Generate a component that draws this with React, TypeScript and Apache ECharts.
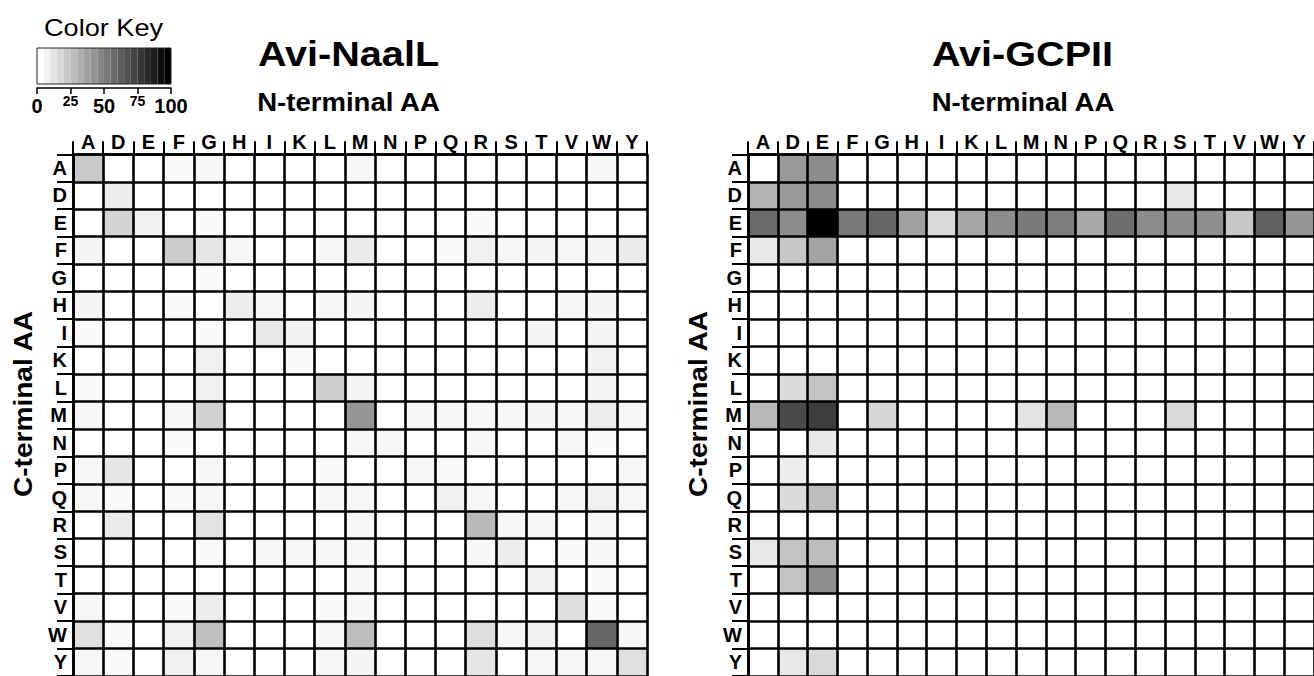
import React, { useEffect, useRef } from "react";
import * as echarts from "echarts";

// Amino acids used on both axes (N-terminal across the top, C-terminal down the side)
const aminoAcids = ["A", "D", "E", "F", "G", "H", "I", "K", "L", "M", "N", "P", "Q", "R", "S", "T", "V", "W", "Y"];

// Avi-NaalL: one row per C-terminal residue, one column per N-terminal residue (0-100)
const naalLValues: number[][] = [
  /* A */ [21, 0, 0, 2, 3, 0, 0, 0, 0, 3, 0, 0, 0, 0, 0, 0, 0, 3, 0],
  /* D */ [0, 7, 0, 0, 0, 0, 0, 0, 0, 0, 0, 0, 0, 0, 0, 0, 0, 0, 0],
  /* E */ [0, 17, 5, 0, 2, 0, 0, 0, 0, 0, 0, 0, 0, 2, 0, 0, 0, 0, 0],
  /* F */ [4, 0, 0, 20, 10, 3, 0, 0, 3, 8, 0, 0, 2, 6, 3, 4, 3, 4, 8],
  /* G */ [0, 0, 0, 0, 2, 0, 0, 0, 0, 0, 0, 0, 0, 0, 0, 0, 0, 0, 0],
  /* H */ [4, 0, 0, 2, 0, 7, 3, 0, 3, 4, 0, 0, 0, 7, 0, 0, 3, 4, 0],
  /* I */ [2, 0, 0, 0, 2, 0, 9, 5, 0, 0, 0, 0, 0, 0, 0, 4, 0, 4, 0],
  /* K */ [0, 0, 0, 0, 6, 0, 0, 2, 0, 0, 0, 0, 0, 0, 0, 0, 0, 5, 0],
  /* L */ [2, 0, 0, 0, 6, 0, 0, 0, 19, 4, 0, 0, 0, 0, 0, 0, 0, 4, 0],
  /* M */ [3, 0, 0, 3, 18, 0, 0, 0, 0, 41, 0, 3, 3, 3, 3, 4, 3, 7, 3],
  /* N */ [0, 0, 0, 2, 0, 0, 0, 0, 0, 3, 3, 0, 0, 3, 0, 0, 3, 2, 0],
  /* P */ [3, 10, 0, 0, 3, 0, 0, 0, 2, 0, 0, 3, 2, 0, 0, 0, 0, 0, 3],
  /* Q */ [3, 2, 0, 2, 3, 0, 0, 0, 3, 3, 0, 0, 6, 3, 0, 0, 3, 6, 3],
  /* R */ [0, 8, 0, 0, 11, 0, 0, 0, 0, 3, 0, 0, 0, 27, 3, 3, 0, 3, 0],
  /* S */ [0, 0, 0, 0, 2, 0, 3, 3, 3, 3, 0, 0, 0, 3, 7, 0, 2, 3, 0],
  /* T */ [0, 0, 0, 0, 0, 0, 0, 0, 0, 3, 0, 0, 0, 0, 0, 6, 0, 2, 0],
  /* V */ [3, 0, 0, 2, 7, 0, 0, 0, 2, 3, 0, 0, 0, 0, 0, 0, 13, 2, 0],
  /* W */ [12, 2, 0, 6, 25, 0, 0, 0, 3, 26, 0, 0, 0, 13, 3, 6, 0, 60, 3],
  /* Y */ [3, 2, 0, 6, 3, 0, 0, 0, 3, 4, 0, 0, 0, 10, 0, 3, 3, 3, 12],
];

// Avi-GCPII: same layout
const gcpiiValues: number[][] = [
  /* A */ [0, 40, 45, 0, 0, 0, 0, 0, 0, 0, 0, 0, 0, 0, 0, 0, 0, 0, 0],
  /* D */ [30, 40, 45, 0, 0, 0, 0, 0, 0, 0, 0, 0, 0, 0, 9, 0, 0, 0, 0],
  /* E */ [58, 45, 100, 52, 60, 37, 15, 35, 45, 52, 51, 34, 57, 45, 45, 44, 22, 62, 41],
  /* F */ [9, 22, 36, 0, 0, 0, 0, 0, 0, 0, 0, 0, 0, 0, 0, 0, 0, 0, 0],
  /* G */ [0, 0, 0, 0, 0, 0, 0, 0, 0, 0, 0, 0, 0, 0, 0, 0, 0, 0, 0],
  /* H */ [0, 0, 0, 0, 0, 0, 0, 0, 0, 0, 0, 0, 0, 0, 0, 0, 0, 0, 0],
  /* I */ [0, 0, 0, 0, 0, 0, 0, 0, 0, 0, 0, 0, 0, 0, 0, 0, 0, 0, 0],
  /* K */ [0, 0, 0, 0, 0, 0, 0, 0, 0, 0, 0, 0, 0, 0, 0, 0, 0, 0, 0],
  /* L */ [0, 14, 24, 0, 0, 0, 0, 0, 0, 0, 0, 0, 0, 0, 0, 0, 0, 0, 0],
  /* M */ [28, 71, 76, 0, 16, 0, 0, 0, 0, 11, 28, 0, 0, 0, 15, 0, 0, 0, 0],
  /* N */ [0, 0, 9, 0, 0, 0, 0, 0, 0, 0, 0, 0, 0, 0, 0, 0, 0, 0, 0],
  /* P */ [0, 7, 0, 0, 0, 0, 0, 0, 0, 0, 0, 0, 0, 0, 0, 0, 0, 0, 0],
  /* Q */ [0, 14, 26, 0, 0, 0, 0, 0, 0, 0, 0, 0, 0, 0, 0, 0, 0, 0, 0],
  /* R */ [0, 0, 0, 0, 0, 0, 0, 0, 0, 0, 0, 0, 0, 0, 0, 0, 0, 0, 0],
  /* S */ [9, 24, 26, 0, 0, 0, 0, 0, 0, 0, 0, 0, 0, 0, 0, 0, 0, 0, 0],
  /* T */ [0, 24, 44, 0, 0, 0, 0, 0, 0, 0, 0, 0, 0, 0, 0, 0, 0, 0, 0],
  /* V */ [0, 0, 0, 0, 0, 0, 0, 0, 0, 0, 0, 0, 0, 0, 0, 0, 0, 0, 0],
  /* W */ [0, 0, 0, 0, 0, 0, 0, 0, 0, 0, 0, 0, 0, 0, 0, 0, 0, 0, 0],
  /* Y */ [0, 9, 15, 0, 0, 0, 0, 0, 0, 0, 0, 0, 0, 0, 0, 0, 0, 0, 0],
];

const panelTitles = ["Avi-NaalL", "Avi-GCPII"];
const xAxisTitle = "N-terminal AA";
const yAxisTitle = "C-terminal AA";
const keyTitle = "Color Key";
const keySteps = 20;

const FONT = '"Liberation Sans", Arial, Helvetica, sans-serif';

const toCells = (matrix: number[][]) =>
  matrix.flatMap((row, y) => row.map((v, x) => [x, y, v]));

const gridLine = { color: "#000", width: 2.6 };

function panelAxes(gridIndex: number) {
  const label = {
    interval: 0,
    color: "#000",
    fontWeight: "bold" as const,
    fontSize: 20,
    fontFamily: FONT,
  };
  return {
    x: {
      type: "category",
      gridIndex,
      data: aminoAcids,
      position: "top",
      z: 5,
      axisLine: { show: true, lineStyle: gridLine },
      axisTick: { show: true, interval: 0, length: 13, lineStyle: { color: "#000", width: 2 } },
      axisLabel: { ...label, margin: 2 },
      splitLine: { show: true, interval: 0, lineStyle: gridLine },
    },
    y: {
      type: "category",
      gridIndex,
      data: aminoAcids,
      inverse: true,
      z: 5,
      axisLine: { show: true, lineStyle: gridLine },
      axisTick: { show: true, interval: 0, length: 16, lineStyle: { color: "#000", width: 2 } },
      axisLabel: { ...label, margin: 6 },
      splitLine: { show: true, interval: 0, lineStyle: gridLine },
    },
  };
}

export default function App() {
  const ref = useRef<HTMLDivElement>(null);

  useEffect(() => {
    if (!ref.current) return;
    const chart = echarts.init(ref.current, undefined, { renderer: "svg" });

    const left = panelAxes(0);
    const right = panelAxes(1);

    const keyPieces = Array.from({ length: keySteps }, (_, i) => {
      const g = Math.round(255 * (1 - i / (keySteps - 1)));
      return {
        min: (100 / keySteps) * i,
        max: (100 / keySteps) * (i + 1),
        color: `rgb(${g},${g},${g})`,
      };
    });

    const text = (
      str: string,
      x: number,
      y: number,
      font: string,
      scaleX: number,
      rotation = 0
    ) => ({
      type: "text",
      x,
      y,
      rotation,
      scaleX,
      z: 20,
      style: {
        text: str,
        font,
        fill: "#000",
        textAlign: "center",
        textVerticalAlign: "middle",
      },
    });

    chart.setOption({
      animation: false,
      backgroundColor: "#fff",
      grid: [
        { left: 73, top: 154.3, width: 574, height: 526.3 },
        { left: 748, top: 154.3, width: 574, height: 526.3 },
        { left: 37, top: 87, width: 134, height: 1 },
      ],
      xAxis: [
        left.x,
        right.x,
        {
          type: "value",
          gridIndex: 2,
          min: 0,
          max: 100,
          interval: 25,
          position: "bottom",
          axisLine: { show: true, lineStyle: { color: "#000", width: 1.5 } },
          axisTick: { show: true, length: 6, lineStyle: { color: "#000", width: 1.5 } },
          splitLine: { show: false },
          axisLabel: {
            showMinLabel: true,
            showMaxLabel: true,
            margin: 8,
            color: "#000",
            fontWeight: "bold",
            fontSize: 20,
            fontFamily: FONT,
            formatter: (v: number) => (v % 50 === 0 ? String(v) : ""),
          },
        },
        {
          type: "value",
          gridIndex: 2,
          min: 0,
          max: 100,
          interval: 25,
          position: "bottom",
          axisLine: { show: false },
          axisTick: { show: false },
          splitLine: { show: false },
          axisLabel: {
            showMinLabel: true,
            showMaxLabel: true,
            margin: 6,
            color: "#000",
            fontWeight: "bold",
            fontSize: 14,
            fontFamily: FONT,
            formatter: (v: number) => (v % 50 === 0 ? "" : String(v)),
          },
        },
      ],
      yAxis: [
        left.y,
        right.y,
        { type: "value", gridIndex: 2, show: false, min: 0, max: 1 },
      ],
      visualMap: [
        {
          type: "continuous",
          min: 0,
          max: 100,
          seriesIndex: [0, 1],
          show: false,
          inRange: { color: ["#ffffff", "#000000"] },
        },
        {
          type: "piecewise",
          seriesIndex: [],
          orient: "horizontal",
          left: 37,
          top: 48,
          padding: 0,
          itemWidth: 134 / keySteps,
          itemHeight: 36,
          itemGap: 0,
          itemSymbol: "rect",
          showLabel: false,
          selectedMode: false,
          hoverLink: false,
          pieces: keyPieces,
        },
      ],
      series: [
        {
          type: "heatmap",
          xAxisIndex: 0,
          yAxisIndex: 0,
          data: toCells(naalLValues),
          emphasis: { disabled: true },
        },
        {
          type: "heatmap",
          xAxisIndex: 1,
          yAxisIndex: 1,
          data: toCells(gcpiiValues),
          emphasis: { disabled: true },
        },
      ],
      graphic: [
        {
          type: "rect",
          z: 20,
          shape: { x: 37, y: 48, width: 134, height: 36 },
          style: { fill: "none", stroke: "#222", lineWidth: 1 },
        },
        text(keyTitle, 103.5, 28, `23px ${FONT}`, 1.18),
        text(panelTitles[0], 348.5, 54, `bold 36px ${FONT}`, 1.1),
        text(panelTitles[1], 1022.5, 54, `bold 36px ${FONT}`, 1.1),
        text(xAxisTitle, 348.5, 102.5, `bold 26px ${FONT}`, 1.06),
        text(xAxisTitle, 1023, 102.5, `bold 26px ${FONT}`, 1.06),
        text(yAxisTitle, 23.5, 404, `bold 26px ${FONT}`, 1.08, Math.PI / 2),
        text(yAxisTitle, 698, 404, `bold 26px ${FONT}`, 1.08, Math.PI / 2),
      ],
    });

    return () => chart.dispose();
  }, []);

  return (
    <div
      ref={ref}
      style={{ position: "fixed", left: 0, top: 0, width: 1314, height: 676, background: "#fff" }}
    />
  );
}
